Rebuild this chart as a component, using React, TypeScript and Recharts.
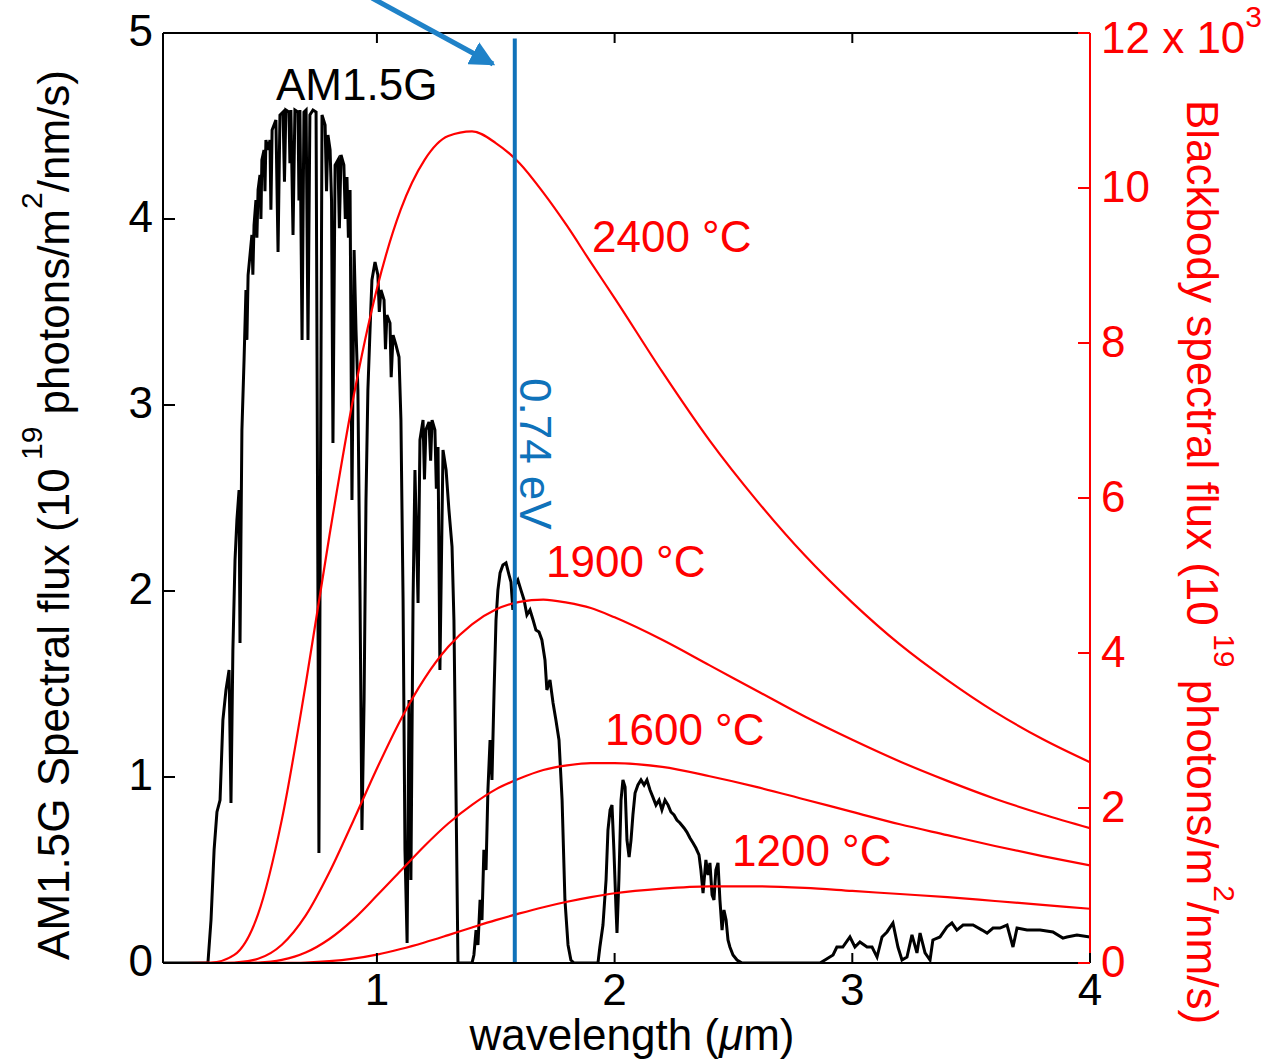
import React from 'react'
import { LineChart, Line, XAxis, YAxis, ReferenceLine } from 'recharts'

const FONT = '"Liberation Sans", Arial, Helvetica, sans-serif'
const RED = '#ff0000'
const BLUE = '#0f72ba'
const ARROW = '#1f82c8'

// blackbody photon flux, right axis (10^19 photons/m2/nm/s, x10^3)
const bbWavelength = [0.1, 0.2, 0.3, 0.4, 0.5, 0.6, 0.7, 0.8, 0.9, 1.0, 1.1, 1.2, 1.3, 1.4, 1.5, 1.6, 1.7, 1.8, 1.9, 2.0, 2.2, 2.4, 2.6, 2.8, 3.0, 3.2, 3.4, 3.6, 3.8, 4.0]
const bb2400 = [0, 0, 0.004, 0.105, 0.63, 1.85, 3.59, 5.51, 7.28, 8.7, 9.72, 10.36, 10.67, 10.73, 10.58, 10.32, 9.94, 9.51, 9.04, 8.58, 7.63, 6.74, 5.96, 5.26, 4.65, 4.11, 3.65, 3.24, 2.89, 2.59]
const bb1900 = [0, 0, 0, 0.005, 0.054, 0.235, 0.61, 1.17, 1.83, 2.51, 3.14, 3.67, 4.08, 4.37, 4.56, 4.66, 4.69, 4.65, 4.58, 4.46, 4.17, 3.84, 3.51, 3.18, 2.88, 2.6, 2.35, 2.12, 1.92, 1.74]
const bb1600 = [0, 0, 0, 0, 0.006, 0.04, 0.135, 0.31, 0.56, 0.87, 1.19, 1.51, 1.8, 2.04, 2.24, 2.38, 2.49, 2.55, 2.58, 2.58, 2.53, 2.41, 2.27, 2.11, 1.95, 1.79, 1.65, 1.51, 1.38, 1.26]
const bb1200 = [0, 0, 0, 0, 0, 0.001, 0.006, 0.023, 0.056, 0.108, 0.18, 0.265, 0.36, 0.458, 0.553, 0.64, 0.72, 0.79, 0.85, 0.9, 0.96, 0.99, 0.99, 0.97, 0.93, 0.89, 0.85, 0.8, 0.75, 0.7]

// AM1.5G spectrum, left axis (10^19 photons/m2/nm/s)
const amWavelength = [
  0.1, 0.28, 0.289, 0.302, 0.315, 0.327, 0.34, 0.352, 0.365, 0.378, 0.386, 0.394, 0.403, 0.411, 0.42, 0.424, 0.432, 0.441, 0.449, 0.453,
  0.458, 0.466, 0.474, 0.478, 0.483, 0.491, 0.495, 0.5, 0.508, 0.512, 0.516, 0.525, 0.529, 0.533, 0.542, 0.55, 0.554, 0.559, 0.567, 0.575,
  0.584, 0.592, 0.605, 0.611, 0.617, 0.63, 0.634, 0.638, 0.647, 0.655, 0.668, 0.672, 0.676, 0.685, 0.693, 0.702, 0.71, 0.718, 0.731, 0.744,
  0.756, 0.769, 0.782, 0.788, 0.794, 0.803, 0.809, 0.815, 0.824, 0.836, 0.842, 0.849, 0.861, 0.867, 0.874, 0.88, 0.887, 0.895, 0.904, 0.912,
  0.92, 0.929, 0.937, 0.946, 0.954, 0.962, 0.971, 0.979, 0.992, 1.004, 1.01, 1.017, 1.03, 1.036, 1.042, 1.055, 1.06, 1.068, 1.08, 1.093,
  1.101, 1.11, 1.118, 1.127, 1.135, 1.143, 1.152, 1.16, 1.173, 1.181, 1.194, 1.2, 1.206, 1.219, 1.226, 1.232, 1.244, 1.25, 1.257, 1.265,
  1.278, 1.291, 1.303, 1.316, 1.324, 1.333, 1.341,
  1.4, 1.408, 1.417, 1.425, 1.434, 1.442, 1.45, 1.459, 1.467, 1.476, 1.484, 1.493, 1.501, 1.509, 1.518, 1.53, 1.543, 1.556, 1.564, 1.572,
  1.581, 1.593, 1.606, 1.619, 1.631, 1.644, 1.657, 1.669, 1.682, 1.694, 1.707, 1.715, 1.728, 1.741, 1.753, 1.766, 1.779, 1.791, 1.804, 1.816, 1.829,
  1.93, 1.938, 1.951, 1.964, 1.972, 1.981, 1.989, 1.997, 2.006, 2.01, 2.018, 2.027, 2.035, 2.044, 2.052, 2.061, 2.069, 2.077, 2.086, 2.098,
  2.111, 2.124, 2.136, 2.149, 2.161, 2.174, 2.187, 2.199, 2.212, 2.225, 2.237, 2.25, 2.262, 2.275, 2.292, 2.304, 2.317, 2.33, 2.342, 2.355,
  2.363, 2.372, 2.384, 2.393, 2.401, 2.41, 2.418, 2.426, 2.435, 2.443, 2.452, 2.46, 2.469, 2.477, 2.485, 2.498, 2.515, 2.536,
  2.864, 2.885, 2.919, 2.935, 2.96, 2.99, 3.011, 3.032, 3.062, 3.083, 3.104, 3.125, 3.146, 3.171, 3.192, 3.209, 3.23, 3.251, 3.272, 3.285,
  3.306, 3.327, 3.339, 3.369, 3.398, 3.419, 3.44, 3.466, 3.508, 3.546, 3.567, 3.592, 3.621, 3.651, 3.676, 3.693, 3.735, 3.79, 3.844, 3.886,
  3.903, 3.945, 4.0,
]
const amFlux = [
  0, 0, 0, 0.231, 0.608, 0.812, 0.876, 1.306, 1.468, 1.575, 0.86, 1.683, 2.167, 2.382, 2.543, 1.72, 2.866, 3.242, 3.618, 3.35,
  3.699, 3.806, 3.914, 3.7, 3.968, 4.102, 3.9, 4.156, 4.237, 4.0, 4.317, 4.371, 4.15, 4.425, 4.371, 4.425, 4.05, 4.478, 4.505, 4.532,
  3.823, 4.559, 4.575, 4.2, 4.586, 4.575, 4.3, 4.586, 3.914, 4.586, 4.575, 4.1, 4.586, 3.349, 4.575, 4.586, 3.349, 4.559, 4.586, 4.575,
  0.591, 4.559, 4.505, 4.15, 4.452, 4.371, 4.1, 2.796, 4.29, 4.317, 3.95, 4.344, 4.29, 4.0, 4.226, 3.9, 4.156, 2.489, 3.833, 3.403,
  3.081, 1.952, 0.715, 1.414, 2.489, 3.081, 3.403, 3.672, 3.769, 3.699, 3.5, 3.618, 3.565, 3.3, 3.484, 3.441, 3.15, 3.376, 3.323, 3.258,
  2.919, 1.952, 0.608, 0.108, 1.414, 0.446, 1.952, 2.651, 1.935, 2.812, 2.919, 2.6, 2.866, 2.909, 2.7, 2.919, 2.866, 2.55, 2.774, 1.575,
  2.758, 2.651, 2.435, 2.237, 1.844, 0.876, 0,
  0, 0.043, 0.177, 0.097, 0.339, 0.231, 0.608, 0.5, 0.93, 1.199, 0.984, 1.468, 1.844, 2.005, 2.097, 2.14, 2.151, 2.086, 2.048, 1.898,
  2.032, 2.059, 2.005, 1.952, 1.871, 1.898, 1.844, 1.79, 1.78, 1.737, 1.629, 1.468, 1.522, 1.398, 1.306, 1.199, 0.876, 0.339, 0.097, 0.016, 0,
  0, 0.086, 0.204, 0.446, 0.715, 0.823, 0.849, 0.608, 0.285, 0.161, 0.446, 0.876, 0.984, 0.946, 0.661, 0.57, 0.661, 0.796, 0.914, 0.957,
  0.984, 0.957, 0.984, 0.93, 0.892, 0.849, 0.876, 0.823, 0.876, 0.849, 0.812, 0.796, 0.769, 0.753, 0.726, 0.704, 0.672, 0.645, 0.618, 0.581,
  0.5, 0.376, 0.554, 0.473, 0.538, 0.366, 0.339, 0.5, 0.538, 0.339, 0.177, 0.285, 0.231, 0.124, 0.086, 0.043, 0.016, 0,
  0, 0.016, 0.043, 0.086, 0.086, 0.14, 0.086, 0.113, 0.086, 0.086, 0.032, 0.14, 0.167, 0.215, 0.086, 0.016, 0.032, 0.151, 0.054, 0.161,
  0.054, 0.016, 0.124, 0.14, 0.194, 0.215, 0.177, 0.204, 0.204, 0.177, 0.161, 0.188, 0.188, 0.204, 0.086, 0.188, 0.177, 0.177, 0.167, 0.134,
  0.14, 0.151, 0.14,
]

const bandgapWavelength = 1.58

const xTicks = [1, 2, 3, 4]
const leftTicks = [0, 1, 2, 3, 4, 5]
const rightTicks = [0, 2, 4, 6, 8, 10, 12]

const bbRows = bbWavelength.map((x, i) => ({ x, t2400: bb2400[i], t1900: bb1900[i], t1600: bb1600[i], t1200: bb1200[i] }))
const amRows = amWavelength.map((x, i) => ({ x, y: amFlux[i] }))

const BottomTick = (props: any) => {
  const { x, y, payload } = props
  return (
    <g>
      <line x1={x} x2={x} y1={y} y2={y - 10} stroke="#000" strokeWidth={2} />
      <text x={x} y={y + 42} textAnchor="middle" fontSize={44} fontFamily={FONT} fill="#000">{payload.value}</text>
    </g>
  )
}

const TopTick = (props: any) => {
  const { x, y } = props
  return <line x1={x} x2={x} y1={y} y2={y + 10} stroke="#000" strokeWidth={2} />
}

const LeftTick = (props: any) => {
  const { x, y, payload } = props
  return (
    <g>
      <line x1={x} x2={x + 12} y1={y} y2={y} stroke="#000" strokeWidth={2} />
      <text x={x - 10} y={y + 13} textAnchor="end" fontSize={44} fontFamily={FONT} fill="#000">{payload.value}</text>
    </g>
  )
}

const RightTick = (props: any) => {
  const { x, y, payload } = props
  const isTop = payload.value === 12
  return (
    <g>
      <line x1={x - 12} x2={x} y1={y} y2={y} stroke={RED} strokeWidth={2} />
      <text x={x + 11} y={y + (isTop ? 20 : 14)} textAnchor="start" fontSize={44} fontFamily={FONT} fill={RED}>
        {isTop ? '12 x 10' : payload.value}
        {isTop && <tspan dy={-26} fontSize={30}>3</tspan>}
      </text>
    </g>
  )
}

export default function App() {
  return (
    <div style={{ position: 'absolute', left: 0, top: 0, width: 1273, height: 1061, background: '#fff' }}>
      <LineChart width={1273} height={1061} data={bbRows} margin={{ top: 32, right: 123, bottom: 38, left: 103 }}>
        <XAxis
          type="number"
          dataKey="x"
          domain={[0.1, 4]}
          ticks={xTicks}
          interval={0}
          allowDataOverflow
          height={60}
          tickSize={0}
          tickMargin={0}
          tickLine={false}
          axisLine={{ stroke: '#000', strokeWidth: 2 }}
          tick={<BottomTick />}
        />
        <XAxis
          xAxisId="top"
          orientation="top"
          type="number"
          dataKey="x"
          domain={[0.1, 4]}
          ticks={[1, 2, 3]}
          interval={0}
          allowDataOverflow
          height={1}
          tickSize={0}
          tickMargin={0}
          tickLine={false}
          axisLine={{ stroke: '#000', strokeWidth: 2 }}
          tick={<TopTick />}
        />
        <YAxis
          yAxisId="left"
          domain={[0, 5]}
          ticks={leftTicks}
          interval={0}
          allowDataOverflow
          width={60}
          tickSize={0}
          tickMargin={0}
          tickLine={false}
          axisLine={{ stroke: '#000', strokeWidth: 2 }}
          tick={<LeftTick />}
        />
        <YAxis
          yAxisId="right"
          orientation="right"
          domain={[0, 12]}
          ticks={rightTicks}
          interval={0}
          allowDataOverflow
          width={60}
          tickSize={0}
          tickMargin={0}
          tickLine={false}
          axisLine={{ stroke: RED, strokeWidth: 2 }}
          tick={<RightTick />}
        />
        <Line data={amRows} dataKey="y" yAxisId="left" type="linear" stroke="#000" strokeWidth={3} dot={false} isAnimationActive={false} />
        <Line dataKey="t2400" yAxisId="right" type="monotone" stroke={RED} strokeWidth={2.2} dot={false} isAnimationActive={false} />
        <Line dataKey="t1900" yAxisId="right" type="monotone" stroke={RED} strokeWidth={2.2} dot={false} isAnimationActive={false} />
        <Line dataKey="t1600" yAxisId="right" type="monotone" stroke={RED} strokeWidth={2.2} dot={false} isAnimationActive={false} />
        <Line dataKey="t1200" yAxisId="right" type="monotone" stroke={RED} strokeWidth={2.2} dot={false} isAnimationActive={false} />
        <ReferenceLine
          yAxisId="left"
          segment={[{ x: bandgapWavelength, y: 0 }, { x: bandgapWavelength, y: 4.97 }]}
          stroke={BLUE}
          strokeWidth={4}
        />
      </LineChart>

      {/* titles, curve labels and the arrow */}
      <svg width={1273} height={1061} style={{ position: 'absolute', left: 0, top: 0, pointerEvents: 'none' }} fontFamily={FONT} fontSize={44}>
        <defs>
          <marker id="head" viewBox="0 0 10 10" refX="9" refY="5" markerWidth="5" markerHeight="5" orient="auto">
            <path d="M0,0 L10,5 L0,10 z" fill={ARROW} />
          </marker>
        </defs>
        <line x1={372} y1={-2} x2={493} y2={64} stroke={ARROW} strokeWidth={5} markerEnd="url(#head)" />

        <text x={276} y={100} fill="#000">AM1.5G</text>
        <text x={592} y={252} fill={RED}>2400 °C</text>
        <text x={546} y={577} fill={RED}>1900 °C</text>
        <text x={605} y={745} fill={RED}>1600 °C</text>
        <text x={732} y={866} fill={RED}>1200 °C</text>
        <text transform="translate(520,378) rotate(90)" fill={BLUE}>0.74 eV</text>

        <text transform="translate(632,1050)" textAnchor="middle" fill="#000">
          wavelength (<tspan fontStyle="italic">μ</tspan>m)
        </text>

        <text transform="translate(69,515) rotate(-90)" textAnchor="middle" fill="#000">
          AM1.5G Spectral flux (10<tspan dy={-27} fontSize={30}> 19</tspan>
          <tspan dy={27}> photons/m</tspan>
          <tspan dy={-27} fontSize={30}>2</tspan>
          <tspan dy={27}>/nm/s)</tspan>
        </text>

        <text transform="translate(1187,562) rotate(90)" textAnchor="middle" fill={RED}>
          Blackbody spectral flux (10<tspan dy={-27} fontSize={30}> 19</tspan>
          <tspan dy={27}> photons/m</tspan>
          <tspan dy={-27} fontSize={30}>2</tspan>
          <tspan dy={27}>/nm/s)</tspan>
        </text>
      </svg>
    </div>
  )
}
